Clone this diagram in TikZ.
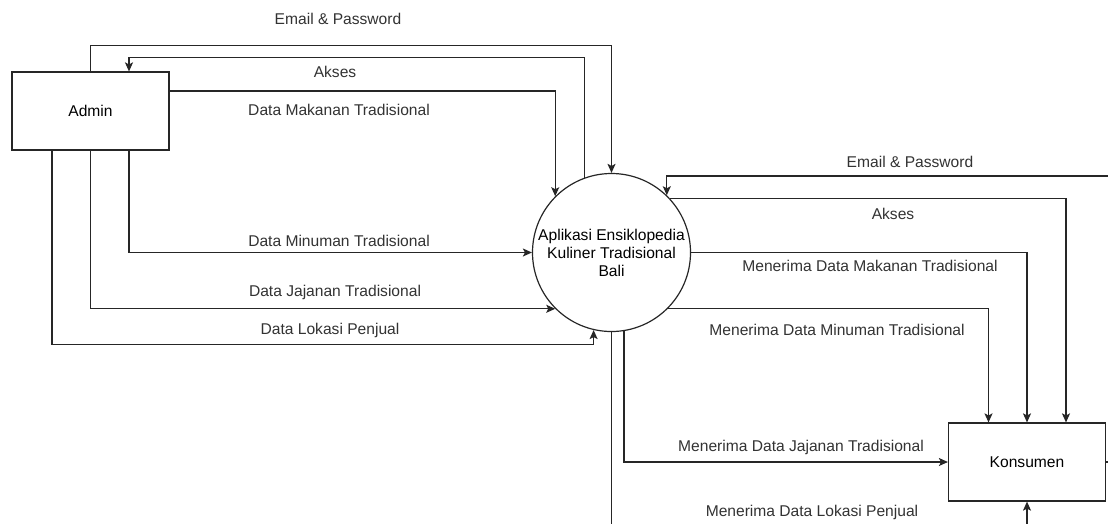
\documentclass[tikz,border=0pt]{standalone}
\usepackage{fontspec}
\setmainfont{Liberation Sans}
\usepackage{tikz}
\usepackage{xcolor}
\usetikzlibrary{arrows.meta,positioning,calc}
\definecolor{ink}{HTML}{262626}
\definecolor{labelink}{HTML}{333333}
\tikzset{
  entity/.style={draw=ink, fill=white, line width=1.2pt, minimum width=157pt,
                 minimum height=78pt, inner sep=0pt, font=\fontsize{15.6}{18}\selectfont},
  process/.style={draw=ink, fill=white, circle, line width=1.2pt, minimum size=158pt,
                  inner sep=0pt, align=center, font=\fontsize{15.6}{18}\selectfont},
  flow/.style={-{Stealth[length=9pt,width=8pt,inset=2pt]}, line width=1.2pt, draw=ink},
  flowlabel/.style={text=labelink, inner sep=1pt, font=\fontsize{15.6}{18}\selectfont}
}
\begin{document}
\begin{tikzpicture}[x=1pt,y=-1pt]
  \clip (0,0) rectangle (1108,523);
  \fill[white] (0,0) rectangle (1108,523);

  \node[entity] (admin) at (90.5,111) {Admin};
  \node[process] (app) at (611.5,252.5) {Aplikasi Ensiklopedia\\Kuliner Tradisional\\Bali};
  \node[entity] (kons) at (1027,462) {Konsumen};

  % admin side
  \draw[flow] (admin.north) -- ++(0,-26) -| (app.north);
  \draw[flow] (app.110.5) -- ++(0,-120) -| ([xshift=38.5]admin.north);
  \draw[flow] ([yshift=20]admin.east) -| (app.135);
  \draw[flow] ([xshift=38.5]admin.south) |- (app.west);
  \draw[flow] (admin.south) |- (app.225);
  \draw[flow] ([xshift=-38.5]admin.south) -- ++(0,194) -| (app.257.9);

  % konsumen side
  \draw[flow] (kons.east) -- ++(30,0) -- ++(0,-286) -| (app.46);
  \draw[flow] (app.43) -| ([xshift=39]kons.north);
  \draw[flow] (app.east) -| (kons.north);
  \draw[flow] (app.315) -| ([xshift=-38.5]kons.north);
  \draw[flow] (app.279.2) |- (kons.west);
  \draw[flow] (app.south) -- ++(0,250) -| (kons.south);

  % labels
  \node[flowlabel] (l1) at (338,19) {Email \& Password};
  \node[flowlabel] (l2) at (335,72) {Akses};
  \node[flowlabel] (l3) at (339,110) {Data Makanan Tradisional};
  \node[flowlabel] (l4) at (339,241) {Data Minuman Tradisional};
  \node[flowlabel] (l5) at (335,292) {Data Jajanan Tradisional};
  \node[flowlabel] (l6) at (330,330) {Data Lokasi Penjual};
  \node[flowlabel] (r1) at (910,162) {Email \& Password};
  \node[flowlabel] (r2) at (893,214) {Akses};
  \node[flowlabel] (r3) at (870,266) {Menerima Data Makanan Tradisional};
  \node[flowlabel] (r4) at (837,330) {Menerima Data Minuman Tradisional};
  \node[flowlabel] (r5) at (801,447) {Menerima Data Jajanan Tradisional};
  \node[flowlabel] (r6) at (812,512) {Menerima Data Lokasi Penjual};
\end{tikzpicture}
\end{document}
